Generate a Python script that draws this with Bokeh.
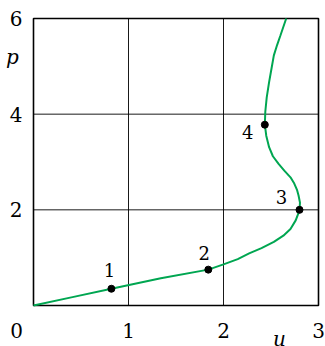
from bokeh.plotting import figure
from bokeh.models import ColumnDataSource, Range1d
from bokeh.core.properties import value
from bokeh.embed import file_html
from bokeh.resources import INLINE

# Curve u -> p
curve_u = [0.0, 0.41, 0.82, 1.34, 1.84, 2.00, 2.15, 2.27, 2.40, 2.53, 2.63, 2.705,
           2.76, 2.80, 2.805, 2.79, 2.775, 2.745, 2.705, 2.64, 2.58, 2.52, 2.48,
           2.45, 2.435, 2.44, 2.455, 2.48, 2.505, 2.53, 2.565, 2.60, 2.66]
curve_p = [0.0, 0.175, 0.35, 0.57, 0.75, 0.86, 0.97, 1.09, 1.20, 1.33, 1.46, 1.60,
           1.78, 1.99, 2.15, 2.30, 2.41, 2.55, 2.68, 2.82, 2.96, 3.12, 3.31,
           3.55, 3.78, 4.05, 4.35, 4.67, 4.95, 5.23, 5.45, 5.65, 6.0]

# Marked states
state_u = [0.82, 1.84, 2.80, 2.435]
state_p = [0.35, 0.75, 2.00, 3.78]
state_names = ["1", "2", "3", "4"]

x_ticks = [1, 2, 3]
y_ticks = [2, 4, 6]
x_grid = [1, 2]
y_grid = [2, 4]
U_MAX, P_MAX = 3, 6

FONT = value("DejaVu Serif")
W, H = 325, 346
# plotting box in pixels: left 33, right 318, top 18, bottom 305
PX_U = (318 - 33) / U_MAX
PX_P = (305 - 18) / P_MAX
p = figure(width=W, height=H,
           x_range=Range1d(-33 / PX_U, (W - 33) / PX_U),
           y_range=Range1d(-(H - 305) / PX_P, 305 / PX_P),
           output_backend="svg", toolbar_location=None, min_border=0)
p.axis.visible = False
p.grid.visible = False
p.outline_line_color = None
p.background_fill_color = "white"
p.border_fill_color = "white"

# grid lines
p.segment(x0=x_grid, y0=[0] * len(x_grid), x1=x_grid, y1=[P_MAX] * len(x_grid),
          line_color="black", line_width=1, line_alpha=0.9)
p.segment(x0=[0] * len(y_grid), y0=y_grid, x1=[U_MAX] * len(y_grid), y1=y_grid,
          line_color="black", line_width=1, line_alpha=0.9)
# box
p.quad(left=[0], right=[U_MAX], bottom=[0], top=[P_MAX], fill_color=None,
       line_color="black", line_width=1.6)

p.line(curve_u, curve_p, line_color="#00a651", line_width=2)

src = ColumnDataSource(dict(u=state_u, p=state_p, name=state_names,
                            dx=[-2, -4, -18, -17], dy=[-19, -17, -13, 7]))
p.scatter("u", "p", source=src, size=7, color="black")
p.text("u", "p", text="name", source=src, x_offset="dx", y_offset="dy",
       text_align="center", text_baseline="middle",
       text_font_size="18px", text_font=FONT, text_color="black")

# tick labels
p.text(x=x_ticks, y=[0] * len(x_ticks), text=[str(t) for t in x_ticks],
       y_offset=25, text_align="center", text_baseline="middle",
       text_font_size="20px", text_font=FONT, text_color="black")
p.text(x=[0] * len(y_ticks), y=y_ticks, text=[str(t) for t in y_ticks],
       x_offset=-11, text_align="right", text_baseline="middle",
       text_font_size="20px", text_font=FONT, text_color="black")
p.text(x=[0], y=[0], text=["0"], x_offset=-17, y_offset=25,
       text_align="center", text_baseline="middle",
       text_font_size="20px", text_font=FONT, text_color="black")

# axis names
p.text(x=[0], y=[P_MAX], text=["p"], x_offset=-21, y_offset=38,
       text_align="center", text_baseline="alphabetic", text_font_style="italic",
       text_font_size="20px", text_font=FONT, text_color="black")
p.text(x=[U_MAX], y=[0], text=["u"], x_offset=-39, y_offset=33,
       text_align="center", text_baseline="alphabetic", text_font_style="italic",
       text_font_size="20px", text_font=FONT, text_color="black")

open("out.html", "w").write(file_html(p, INLINE))
